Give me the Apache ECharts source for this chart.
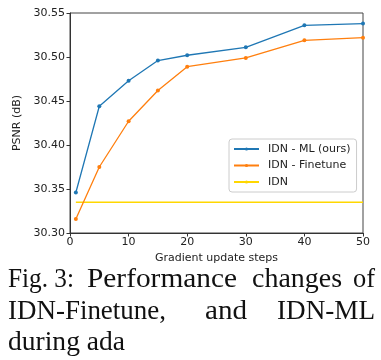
<!DOCTYPE html>
<html><head><meta charset="utf-8">
<script src="https://cdn.jsdelivr.net/npm/echarts@6/dist/echarts.min.js"></script>
<style>html,body{margin:0;padding:0;background:#fff}#c{width:381px;height:360px}</style>
</head><body><div id="c"></div>
<script>
const steps = [1, 5, 10, 15, 20, 30, 40, 50];
const idnML = [30.346, 30.444, 30.473, 30.496, 30.502, 30.511, 30.536, 30.538];
const idnFinetune = [30.316, 30.375, 30.427, 30.462, 30.489, 30.499, 30.519, 30.522];
const idnBaseline = 30.335;
const baselineSteps = [1, 50];
const seriesNames = ['IDN - ML (ours)', 'IDN - Finetune', 'IDN'];
const yTicks = [30.30, 30.35, 30.40, 30.45, 30.50, 30.55];
const xTicks = [0, 10, 20, 30, 40, 50];
const captionLines = [
  ['Fig. 3:', 'Performance', 'changes', 'of'],
  ['IDN-Finetune,', 'and', 'IDN-ML'],
  ['during ada']
];

const chart = echarts.init(document.getElementById('c'), null, {renderer: 'canvas'});
const font = 'DejaVu Sans';
const pair = (xs, ys) => xs.map((x, i) => [x, ys[i]]);

// caption layout: word left x, target widths, baselines
const capFont = '28px "Liberation Serif"';
const capX = [[8, 87, 252, 353], [8, 205, 277], [8]];
const capW = [[66, 150, 90, 22], [158, 42, 98], [117]];
const capBase = [288, 320, 351];
const mctx = document.createElement('canvas').getContext('2d');
mctx.font = capFont;
const graphics = [];
captionLines.forEach((line, li) => {
  line.forEach((w, wi) => {
    const mw = mctx.measureText(w).width || capW[li][wi];
    graphics.push({
      type: 'text', x: capX[li][wi], y: capBase[li] - 22,
      scaleX: capW[li][wi] / mw, scaleY: 1,
      style: {text: w, font: capFont, fill: '#111', verticalAlign: 'top', align: 'left'}
    });
  });
});

chart.setOption({
  animation: false,
  backgroundColor: '#fff',
  grid: {left: 70, right: 18, top: 13, height: 220, show: true, borderColor: '#444', borderWidth: 1},
  legend: {
    orient: 'vertical', left: 229, top: 139, padding: [4, 6, 4, 4],
    itemWidth: 25, itemHeight: 4, itemGap: 4.5,
    borderColor: '#ccc', borderWidth: 1, borderRadius: 3, backgroundColor: 'rgba(255,255,255,0.8)',
    textStyle: {fontFamily: font, fontSize: 11, lineHeight: 12, color: '#222', padding: [0, 0, 0, 4]},
    data: seriesNames
  },
  xAxis: {
    type: 'value', min: 0, max: 50, interval: 10,
    name: 'Gradient update steps', nameLocation: 'middle', nameGap: 18,
    nameTextStyle: {fontFamily: font, fontSize: 11, color: '#222'},
    axisLine: {show: true, lineStyle: {color: '#333', width: 1}},
    axisTick: {show: true, length: 3.5, lineStyle: {color: '#333'}},
    axisLabel: {fontFamily: font, fontSize: 11, color: '#222', margin: 4},
    splitLine: {show: false}
  },
  yAxis: {
    type: 'value', min: 30.30, max: 30.55, interval: 0.05,
    name: 'PSNR (dB)', nameLocation: 'middle', nameGap: 41, nameRotate: 90,
    nameTextStyle: {fontFamily: font, fontSize: 11, color: '#222'},
    axisLine: {show: true, lineStyle: {color: '#333', width: 1}},
    axisTick: {show: true, length: 3.5, lineStyle: {color: '#333'}},
    axisLabel: {fontFamily: font, fontSize: 11, color: '#222', margin: 5,
      formatter: v => v.toFixed(2)},
    splitLine: {show: false}
  },
  series: [
    {name: seriesNames[0], type: 'line', data: pair(steps, idnML), color: '#1f77b4',
     symbol: 'circle', symbolSize: 4, lineStyle: {width: 1.3}, itemStyle: {color: '#1f77b4'}, z: 4},
    {name: seriesNames[1], type: 'line', data: pair(steps, idnFinetune), color: '#ff7f0e',
     symbol: 'circle', symbolSize: 4, lineStyle: {width: 1.3}, itemStyle: {color: '#ff7f0e'}, z: 3},
    {name: seriesNames[2], type: 'line', data: baselineSteps.map(x => [x, idnBaseline]), color: '#ffd700',
     symbol: 'none', lineStyle: {width: 1.5}, z: 2}
  ],
  graphic: graphics
});
</script></body></html>
